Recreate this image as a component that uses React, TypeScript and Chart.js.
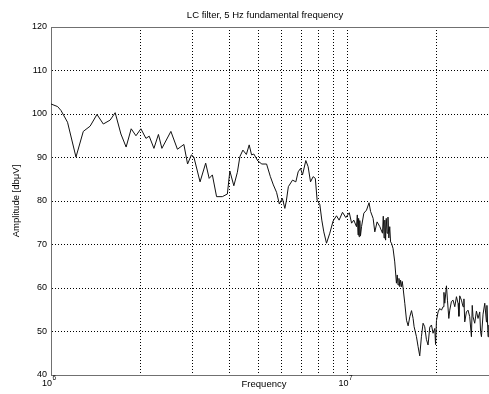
import React, { useEffect, useRef } from "react";
import { Chart, registerables } from "chart.js";

Chart.register(...registerables);

// Text
const TITLE = "LC filter, 5 Hz fundamental frequency";
const X_TITLE = "Frequency";
const Y_TITLE = "Amplitude [dbμV]";

// Measured spectrum: frequency in MHz, amplitude in dBμV
const FREQ_MHZ = [
  1.0, 1.053, 1.081, 1.137, 1.214, 1.285, 1.355, 1.429, 1.501, 1.583,
  1.646, 1.721, 1.792, 1.864, 1.934, 2.01, 2.09, 2.144, 2.224, 2.303,
  2.366, 2.537, 2.669, 2.806, 2.888, 2.975, 3.033, 3.182, 3.324, 3.415,
  3.501, 3.617, 3.783, 3.933, 4.01, 4.136, 4.251, 4.335, 4.437, 4.559,
  4.66, 4.747, 4.832, 4.985, 5.142, 5.333, 5.493, 5.622, 5.763, 5.89,
  6.029, 6.147, 6.218, 6.316, 6.525, 6.694, 6.815, 6.943, 7.051, 7.234,
  7.364, 7.503, 7.656, 7.788, 7.897, 8.064, 8.19, 8.318, 8.494, 8.715,
  8.941, 9.179, 9.368, 9.618, 9.867, 10.14, 10.32, 10.5, 10.72, 10.79,
  10.85, 10.9, 10.94, 11.0, 11.06, 11.15, 11.35, 11.59, 11.82, 11.96,
  12.2, 12.36, 12.58, 12.85, 13.12, 13.2, 13.28, 13.36, 13.44, 13.51,
  13.6, 13.69, 13.78, 13.88, 13.97, 14.07, 14.24, 14.43, 14.62, 14.71,
  14.8, 14.91, 15.01, 15.1, 15.21, 15.3, 15.4, 15.6, 15.81, 16.01,
  16.22, 16.44, 16.64, 16.77, 17.08, 17.3, 17.52, 17.75, 17.98, 18.21,
  18.45, 18.69,
  18.94, 19.19, 19.43, 19.69, 19.81, 19.95, 20.2, 20.47, 20.74, 21.0,
  21.14, 21.28, 21.56, 21.73, 21.96, 22.12, 22.41, 22.7, 23.0, 23.3,
  23.59, 23.75, 23.9, 24.22, 24.52, 24.69, 24.85, 25.17, 25.49, 25.83,
  26.17, 26.34, 26.5, 26.85, 27.21, 27.55, 27.92, 28.1, 28.29, 28.65,
  29.03, 29.41, 29.52, 29.78, 29.94,
];

const AMPLITUDE_DB = [
  102.3, 101.7, 100.8, 98.1, 90.1, 96.0, 97.2, 99.9, 97.7, 98.6,
  100.3, 95.4, 92.4, 96.6, 95.0, 96.6, 94.4, 94.9, 92.1, 95.3,
  92.1, 96.0, 91.9, 93.0, 88.5, 90.6, 90.1, 84.4, 88.7, 85.2,
  86.0, 81.0, 81.0, 81.6, 86.9, 83.5, 86.6, 90.2, 91.7, 90.7,
  92.9, 90.6, 90.8, 89.2, 88.5, 88.5, 85.6, 83.7, 82.0, 79.3,
  80.6, 78.3, 80.0, 83.3, 84.8, 84.4, 86.7, 87.5, 86.0, 89.3,
  87.9, 84.4, 85.6, 85.2, 80.2, 79.2, 75.6, 72.9, 70.3, 72.6,
  75.4, 76.6, 75.6, 77.4, 76.2, 77.3, 74.9, 75.6, 74.1, 76.8,
  72.2, 76.0, 71.8, 75.5, 72.0, 74.1, 77.2, 77.9, 79.6, 77.6,
  76.0, 72.9, 75.2, 74.1, 72.6, 76.5, 71.5, 75.6, 71.0, 76.0,
  72.6, 76.3, 71.5, 74.1, 70.6, 70.3, 69.1, 66.0, 61.1, 63.0,
  60.7, 62.2, 60.3, 61.8, 60.3, 61.5, 59.9, 56.5, 52.6, 51.3,
  53.4, 54.8, 53.0, 51.1, 48.8, 46.5, 44.4, 48.8, 51.9, 51.1,
  48.2, 46.9,
  51.0, 51.5, 49.6, 50.7, 47.0, 52.5, 54.5, 55.3, 54.9, 55.7,
  59.0, 56.5, 60.5, 57.2, 53.0, 54.9, 56.9, 57.2, 55.7, 58.0,
  56.5, 53.5, 58.2, 57.2, 55.7, 57.5, 52.2, 54.5, 54.9, 53.4,
  48.8, 56.0, 53.4, 51.9, 54.7, 53.0, 54.5, 50.0, 48.8, 54.0,
  56.5, 52.2, 56.0, 48.8, 51.5,
];

// Axes
const X_MIN_HZ = 1e6;
const X_MAX_HZ = 3e7;
const X_GRID_HZ = [1e6, 2e6, 3e6, 4e6, 5e6, 6e6, 7e6, 8e6, 9e6, 1e7, 2e7, 3e7];
const X_LABEL_EXPONENTS = [6, 7];
const Y_MIN = 40;
const Y_MAX = 120;
const Y_STEP = 10;

const FONT_FAMILY = '"Liberation Sans", Arial, Helvetica, sans-serif';
const AXIS_COLOR = "#707070";
const GRID_COLOR = "#000000";
const TEXT_COLOR = "#000000";

const annotationPlugin = {
  id: "plotAnnotations",
  afterDraw(chart: any) {
    const { ctx, chartArea, scales } = chart;
    ctx.save();

    // box top edge
    const topY = Math.round(chartArea.top) + 0.5;
    ctx.strokeStyle = AXIS_COLOR;
    ctx.lineWidth = 1;
    ctx.beginPath();
    ctx.moveTo(chartArea.left, topY);
    ctx.lineTo(chartArea.right, topY);
    ctx.stroke();

    ctx.fillStyle = TEXT_COLOR;

    // title
    ctx.font = `9.5px ${FONT_FAMILY}`;
    ctx.textAlign = "center";
    ctx.textBaseline = "middle";
    ctx.fillText(TITLE, 265, 15);

    // x axis title
    ctx.fillText(X_TITLE, 264, 384);

    // y axis title
    ctx.save();
    ctx.translate(16, 201);
    ctx.rotate(-Math.PI / 2);
    ctx.fillText(Y_TITLE, 0, 0);
    ctx.restore();

    // decade labels 10^n
    const xs = scales.x;
    for (const e of X_LABEL_EXPONENTS) {
      const px = xs.getPixelForValue(Math.pow(10, e));
      ctx.textBaseline = "alphabetic";
      ctx.font = `9px ${FONT_FAMILY}`;
      ctx.textAlign = "right";
      ctx.fillText("10", px + 1, 386);
      ctx.font = `6.5px ${FONT_FAMILY}`;
      ctx.textAlign = "left";
      ctx.fillText(String(e), px + 1.5, 380);
    }
    ctx.restore();
  },
};

export default function App() {
  const canvasRef = useRef<HTMLCanvasElement>(null);

  useEffect(() => {
    const canvas = canvasRef.current;
    if (!canvas) return;
    const points = FREQ_MHZ.map((f, i) => ({ x: f * 1e6, y: AMPLITUDE_DB[i] }));

    const chart = new Chart(canvas, {
      type: "line",
      data: {
        datasets: [
          {
            data: points,
            borderColor: "#111111",
            borderWidth: 1,
            pointRadius: 0,
            tension: 0,
            fill: false,
          },
        ],
      },
      options: {
        responsive: false,
        animation: false,
        events: [],
        layout: { padding: { top: 27, left: 0, right: 0, bottom: 0 } },
        plugins: {
          legend: { display: false },
          tooltip: { enabled: false },
          title: { display: false },
        },
        scales: {
          x: {
            type: "logarithmic",
            min: X_MIN_HZ,
            max: X_MAX_HZ,
            afterBuildTicks: (scale: any) => {
              scale.ticks = X_GRID_HZ.map((value) => ({ value }));
            },
            afterFit: (scale: any) => {
              scale.height = 19;
            },
            ticks: { display: false },
            grid: {
              drawTicks: false,
              lineWidth: 1,
              color: (c: any) =>
                c.tick && (c.tick.value === X_MIN_HZ || c.tick.value === X_MAX_HZ)
                  ? "rgba(0,0,0,0)"
                  : GRID_COLOR,
            },
            border: { display: true, color: AXIS_COLOR, width: 1, dash: [1, 2] },
          },
          y: {
            type: "linear",
            min: Y_MIN,
            max: Y_MAX,
            afterFit: (scale: any) => {
              scale.width = 51;
            },
            ticks: {
              stepSize: Y_STEP,
              padding: 4,
              color: TEXT_COLOR,
              font: { size: 9, family: FONT_FAMILY },
            },
            grid: {
              drawTicks: false,
              lineWidth: 1,
              color: (c: any) =>
                c.tick && (c.tick.value === Y_MIN || c.tick.value === Y_MAX)
                  ? "rgba(0,0,0,0)"
                  : GRID_COLOR,
            },
            border: { display: true, color: AXIS_COLOR, width: 1, dash: [1, 2] },
          },
        },
      },
      plugins: [annotationPlugin],
    });

    return () => chart.destroy();
  }, []);

  return (
    <div style={{ position: "fixed", left: 0, top: 0, width: 489, height: 394, background: "#ffffff" }}>
      <canvas ref={canvasRef} width={489} height={394} style={{ display: "block" }} />
    </div>
  );
}
